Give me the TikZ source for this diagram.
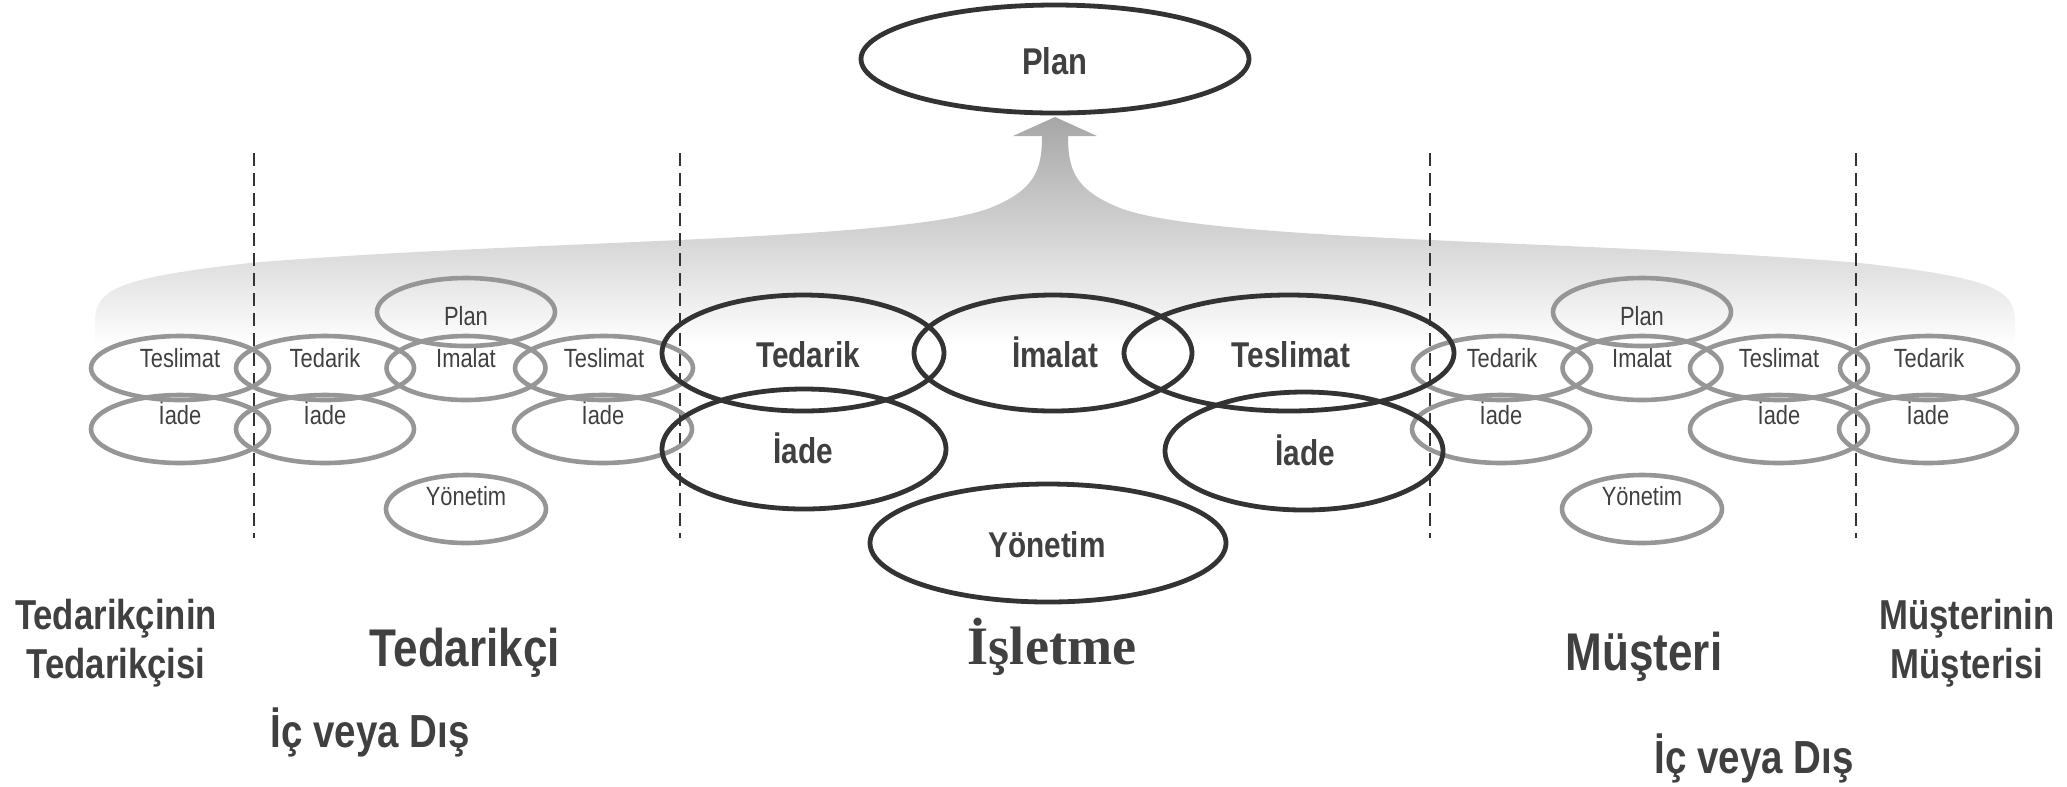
\documentclass[tikz,border=0pt]{standalone}
\usepackage{fontspec}
\setmainfont{Liberation Sans}[FakeStretch=0.83]
\newfontfamily\titleserif{Liberation Serif}
\usetikzlibrary{shapes.geometric}
\definecolor{ink}{HTML}{404040}
\definecolor{rim}{HTML}{333333}
\definecolor{ghost}{HTML}{969696}
\definecolor{flow}{HTML}{A6A6A6}

\begin{document}
\begin{tikzpicture}[x=0.1mm,y=-0.1mm,
  outer/.style={ellipse, draw=ghost, line width=0.46mm, inner sep=0pt,
    minimum width=17.8mm, minimum height=6.4mm},
  core/.style={ellipse, draw=rim, line width=0.48mm, inner sep=0pt},
  smalltxt/.style={text=ink, anchor=base, inner sep=0pt,
    font=\fontsize{7.5pt}{8.5pt}\selectfont},
  bigtxt/.style={text=ink, anchor=base, inner sep=0pt,
    font=\bfseries\fontsize{10.2pt}{11.5pt}\selectfont},
  partytxt/.style={text=ink, anchor=base, inner sep=0pt,
    font=\bfseries\fontsize{15.1pt}{17pt}\selectfont},
  sidetxt/.style={text=ink, anchor=center, inner sep=0pt, align=center,
    font=\bfseries\fontsize{11.9pt}{13.94pt}\selectfont},
  kindtxt/.style={text=ink, anchor=base, inner sep=0pt,
    font=\bfseries\fontsize{13.2pt}{14pt}\selectfont},
  divider/.style={rim, line width=0.2mm, dash pattern=on 1.3mm off 0.7mm},
]
\useasboundingbox (0,0) rectangle (2067,786);

% shaded flow rising from the chain into the plan process
\shade[top color=flow, bottom color=white]
  (95,345) -- (95,322)
  .. controls (95,290) and (115,278) .. (250,263)
  .. controls (520,240) and (900,242) .. (990,208)
  .. controls (1035,190) and (1042,170) .. (1042,136)
  -- (1013,136) -- (1055,117) -- (1097,136) -- (1068,136)
  .. controls (1068,170) and (1075,190) .. (1120,208)
  .. controls (1210,242) and (1590,240) .. (1860,263)
  .. controls (1995,278) and (2015,290) .. (2015,322)
  -- (2015,345) -- cycle;

% boundaries between the parties
\foreach \n/\x in {d1/254, d2/680, d3/1430, d4/1856} {
  \coordinate (\n top) at (\x,153);
  \coordinate (\n bot) at (\x,538);
  \draw[divider] (\n top) -- (\n bot);
}

% outer parties: return row
\foreach \n/\x in {la/180, lb/325, lc/603, ra/1501, rb/1779, rc/1928} {
  \node[outer, minimum height=6.8mm] (\n iade) at (\x,429) {};
  \node[smalltxt] (\n iadet) at (\x,424) {İade};
}
% outer parties: management
\foreach \n/\x in {l/466, r/1642} {
  \node[outer, minimum width=16mm, minimum height=6.8mm] (\n yon) at (\x,509) {};
  \node[smalltxt] (\n yont) at (\x,505) {Yönetim};
}
% outer parties: source / make / deliver row
\foreach \n/\x/\w/\t in {la/180/17.8mm/Teslimat, lb/325/17.8mm/Tedarik,
    lc/466/15.9mm/İmalat, ld/604/17.8mm/Teslimat,
    ra/1502/17.8mm/Tedarik, rb/1642/15.9mm/İmalat,
    rc/1779/17.8mm/Teslimat, rd/1929/17.8mm/Tedarik} {
  \node[outer, minimum width=\w] (\n top) at (\x,368) {};
  \node[smalltxt] (\n topt) at (\x,367) {\t};
}
% outer parties: plan
\foreach \n/\x in {l/466, r/1642} {
  \node[outer, minimum height=6.8mm] (\n plan) at (\x,312) {};
  \node[smalltxt] (\n plant) at (\x,325) {Plan};
}

% the enterprise itself
\node[core, minimum width=38.8mm, minimum height=10.8mm] (plan) at (1055,59) {};
\node[bigtxt, font=\bfseries\fontsize{10.6pt}{12pt}\selectfont] (plant) at (1055,74) {Plan};

\node[core, minimum width=28.4mm, minimum height=12mm] (iadeL) at (804,449) {};
\node[core, minimum width=27.8mm, minimum height=11.8mm] (iadeR) at (1304,451) {};
\node[core, minimum width=35.6mm, minimum height=11.8mm] (yonetim) at (1048,543) {};
\node[core, minimum width=28.2mm, minimum height=11.6mm] (tedarik) at (803,353) {};
\node[core, minimum width=27.8mm, minimum height=11.6mm] (imalat) at (1053,353) {};
\node[core, minimum width=33mm, minimum height=11.6mm] (teslimat) at (1289,353) {};

\node[bigtxt] (tedarikt) at (808,367) {Tedarik};
\node[bigtxt] (imalatt) at (1055,367) {İmalat};
\node[bigtxt] (teslimatt) at (1291,367) {Teslimat};
\node[bigtxt] (iadeLt) at (803,463) {İade};
\node[bigtxt] (iadeRt) at (1305,465) {İade};
\node[bigtxt] (yonetimt) at (1047,557) {Yönetim};

% party names
\node[sidetxt] (ss) at (116,643) {Tedarikçinin\\Tedarikçisi};
\node[partytxt] (sup) at (465,666) {Tedarikçi};
\node[kindtxt] (supkind) at (370,747) {İç veya Dış};
\node[text=ink, anchor=base, inner sep=0pt,
  font=\titleserif\bfseries\fontsize{15.4pt}{17pt}\selectfont] (firm) at (1052,664) {İşletme};
\node[partytxt] (cus) at (1644,670) {Müşteri};
\node[kindtxt] (cuskind) at (1754,773) {İç veya Dış};
\node[sidetxt] (cc) at (1967,643) {Müşterinin\\Müşterisi};
\end{tikzpicture}
\end{document}
